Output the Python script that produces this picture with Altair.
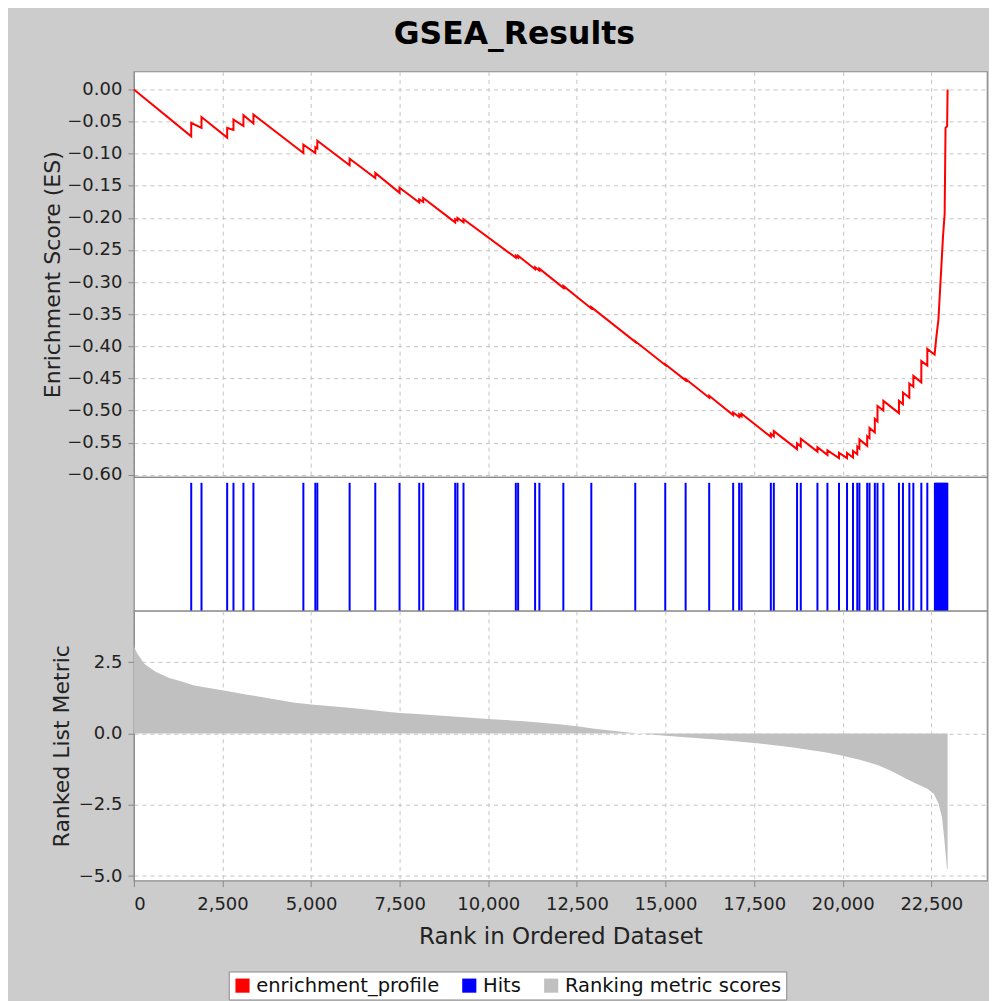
import altair as alt
import pandas as pd

# ---------------- data ----------------
es_rank = [0,
           1618, 1618, 1908, 1908, 2632, 2632, 2810, 2810, 3091, 3091, 3373, 3373,
           4782, 4782, 5120, 5120, 5176, 5176, 6087, 6087, 6811, 6811, 7496, 7496,
           8051, 8051, 8164, 8164, 9066, 9066, 9130, 9130, 9300, 9300,
           10776, 10776, 10841, 10841, 11320, 11320, 11441, 11441,
           12117, 12117, 12906, 12906, 14146, 14146, 14992, 14992, 15567, 15567,
           16232, 16232, 16908, 16908, 17077, 17077, 17145, 17145,
           17971, 17971, 18055, 18055, 18711, 18711, 18816, 18816,
           19286, 19286, 19568, 19568, 19895, 19895, 20121, 20121, 20290, 20290,
           20410, 20410, 20470, 20470, 20690, 20690, 20755, 20755,
           20905, 20905, 20980, 20980, 21146, 21146, 21586, 21586, 21699, 21699,
           21879, 21879, 21992, 21992, 22217, 22217, 22386, 22386,
           22592, 22640, 22700, 22760, 22830, 22875, 22900, 22945, 22958]
es_val = [0.000,
          -0.073, -0.052, -0.060, -0.043, -0.075, -0.060, -0.063, -0.047, -0.057, -0.040, -0.053, -0.039,
          -0.099, -0.086, -0.099, -0.090, -0.092, -0.080, -0.118, -0.108, -0.138, -0.130, -0.161, -0.153,
          -0.176, -0.171, -0.175, -0.169, -0.207, -0.202, -0.204, -0.200, -0.207, -0.202,
          -0.262, -0.259, -0.262, -0.259, -0.280, -0.277, -0.282, -0.279,
          -0.309, -0.306, -0.341, -0.339, -0.393, -0.392, -0.429, -0.428, -0.453, -0.451,
          -0.480, -0.477, -0.507, -0.503, -0.510, -0.506, -0.509, -0.505,
          -0.541, -0.536, -0.540, -0.532, -0.560, -0.551, -0.556, -0.544,
          -0.564, -0.557, -0.569, -0.562, -0.574, -0.566, -0.574, -0.566, -0.573, -0.563,
          -0.568, -0.556, -0.559, -0.545, -0.555, -0.540, -0.543, -0.527,
          -0.534, -0.513, -0.517, -0.493, -0.500, -0.485, -0.504, -0.485, -0.490, -0.472,
          -0.480, -0.458, -0.463, -0.446, -0.456, -0.423, -0.430, -0.404,
          -0.413, -0.386, -0.358, -0.298, -0.228, -0.194, -0.060, -0.057, 0.000]

hit_rank = [1618, 1908, 2632, 2810, 3091, 3373, 4782, 5120, 5176, 6087, 6811, 7496,
            8051, 8164, 9066, 9130, 9300, 10776, 10841, 11320, 11441, 12117, 12906,
            14146, 14992, 15567, 16232, 16908, 17077, 17145, 17971, 18055, 18711,
            18816, 19286, 19568, 19895, 20121, 20290, 20410, 20470, 20690, 20755,
            20905, 20980, 21146, 21586, 21699, 21879, 21992, 22217, 22386,
            22600, 22625, 22650, 22675, 22700, 22725, 22750, 22775, 22800, 22825,
            22850, 22875, 22900, 22925, 22950]

metric_rank = [0, 100, 300, 600, 1000, 1350, 1700, 2500, 3200, 3800, 4500, 5000,
               5500, 6000, 6500, 7000, 7500, 8000, 8500, 9000, 9500, 10000, 11000,
               11500, 12000, 12500, 13000, 13500, 14100, 14500, 15000, 16500, 17500,
               18600, 19500, 20000, 20500, 21000, 21400, 21900, 22400, 22570, 22700,
               22800, 22870, 22940, 22958]
metric_val = [3.05, 2.80, 2.44, 2.17, 1.95, 1.82, 1.68, 1.52, 1.36, 1.24, 1.09, 1.02,
              0.96, 0.91, 0.85, 0.78, 0.72, 0.68, 0.64, 0.60, 0.55, 0.51, 0.43,
              0.38, 0.32, 0.25, 0.17, 0.10, 0.02, -0.03, -0.08, -0.22, -0.33,
              -0.49, -0.66, -0.78, -0.93, -1.11, -1.33, -1.66, -1.95, -2.12, -2.45,
              -2.94, -3.76, -4.75, -4.75]

legend_labels = ["enrichment_profile", "Hits", "Ranking metric scores"]
legend_colors = ["#ff0000", "#0000ff", "#c0c0c0"]

x_ticks = [0, 2500, 5000, 7500, 10000, 12500, 15000, 17500, 20000, 22500]
es_ticks = [0.0, -0.05, -0.10, -0.15, -0.20, -0.25, -0.30, -0.35, -0.40, -0.45,
            -0.50, -0.55, -0.60]
metric_ticks = [2.5, 0.0, -2.5, -5.0]

# ---------------- tables ----------------
es_df = pd.DataFrame({"rank": es_rank, "es": es_val, "i": list(range(len(es_rank)))})
hit_df = pd.DataFrame({"rank": hit_rank, "hit": [1] * len(hit_rank)})
metric_df = pd.DataFrame({"rank": metric_rank, "metric": metric_val,
                          "series": [legend_labels[2]] * len(metric_rank)})

W = 854
XDOM = [0, 24070]
FONT = "DejaVu Sans"
GRID = "#c4c4c4"
FRAME = "#8a8a8a"

xscale = alt.Scale(domain=XDOM, nice=False, zero=False)

x_grid_only = alt.X("rank:Q", scale=xscale,
                    axis=alt.Axis(values=x_ticks, labels=False, ticks=False,
                                  domain=False, title=None, grid=True,
                                  minExtent=0, maxExtent=0))

top = alt.Chart(es_df).mark_line(color="#ff0000", strokeWidth=2).encode(
    x=x_grid_only,
    y=alt.Y("es:Q", scale=alt.Scale(domain=[-0.6035, 0.028], nice=False, zero=False),
            axis=alt.Axis(values=es_ticks, format=".2f", title="Enrichment Score (ES)",
                          grid=True, titlePadding=2)),
    order=alt.Order("i:Q"),
).properties(width=W, height=406)

hits = alt.Chart(hit_df).mark_rule(color="#0000ff", strokeWidth=2).encode(
    x=alt.X("rank:Q", scale=xscale, axis=None),
    y=alt.Y("hit:Q", scale=alt.Scale(domain=[0, 1.045], nice=False), axis=None),
    y2=alt.datum(0),
).properties(width=W, height=134)

bottom = alt.Chart(metric_df).mark_area(interpolate="linear").encode(
    x=alt.X("rank:Q", scale=xscale,
            axis=alt.Axis(values=x_ticks, format=",d", title="Rank in Ordered Dataset",
                          grid=True, ticks=True, tickSize=6, labelPadding=9,
                          titlePadding=12, titleFontSize=23, domain=False)),
    y=alt.Y("metric:Q", scale=alt.Scale(domain=[-5.16, 4.30], nice=False, zero=False),
            axis=alt.Axis(values=metric_ticks, format=".1f", title="Ranked List Metric",
                          grid=True, titlePadding=5),
            stack=None),
    y2=alt.datum(0),
    color=alt.Color("series:N",
                    scale=alt.Scale(domain=legend_labels, range=legend_colors),
                    legend=alt.Legend(orient="none", legendX=95, legendY=901,
                                      direction="horizontal", title=None,
                                      symbolType="square", symbolSize=200,
                                      symbolStrokeWidth=0, symbolOpacity=1,
                                      labelFontSize=19.5, labelFont=FONT, labelLimit=0,
                                      labelColor="#111111", labelOffset=4,
                                      columnPadding=20, padding=4,
                                      fillColor="white", strokeColor=FRAME)),
).properties(width=W, height=270)

chart = alt.vconcat(top, hits, bottom, spacing=0, bounds="flush").resolve_scale(
    color="shared"
).properties(
    title=alt.TitleParams("GSEA_Results", font=FONT, fontSize=31.5, fontWeight="bold",
                          color="#000000", anchor="middle", offset=20),
    padding={"left": 33, "top": 10, "right": 1, "bottom": 2},
).configure(background="#cccccc").configure_view(
    fill="white", stroke=FRAME, strokeWidth=1.2
).configure_axis(
    labelFont=FONT, titleFont=FONT, labelFontSize=18, titleFontSize=22,
    titleFontWeight="normal", labelColor="#222222", titleColor="#222222",
    gridColor=GRID, gridDash=[4, 4], gridWidth=1,
    domainColor=FRAME, tickColor=FRAME, tickSize=6, labelPadding=6, titlePadding=10,
)

chart.save("out.html", embed_options={"renderer": "svg", "actions": False})
